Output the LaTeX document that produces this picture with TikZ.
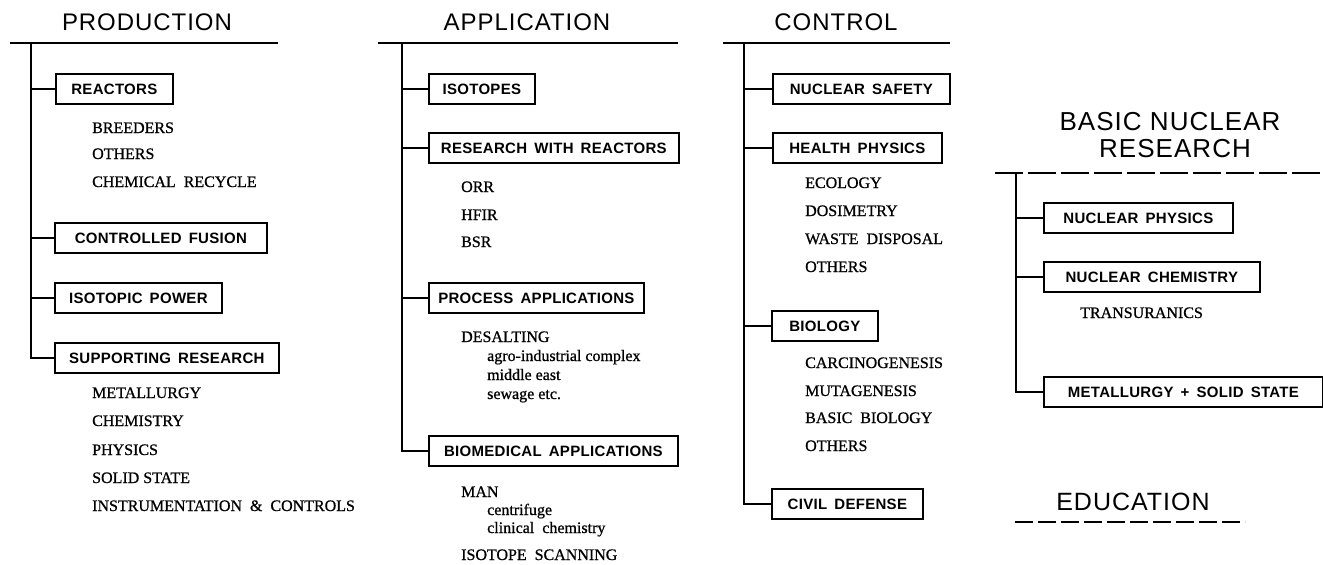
\documentclass[tikz,border=0pt]{standalone}
\usepackage{fontspec}
\setmainfont[FakeBold=0.8]{Liberation Serif}
\newfontfamily\headfont[LetterSpace=4]{Liberation Sans}
\newfontfamily\boxfont[LetterSpace=2,WordSpace=1.6]{Liberation Sans}
\tikzset{
  bar/.style={line width=2.4pt},
  dbar/.style={line width=2.4pt, dash pattern=on 28pt off 5pt},
  ebar/.style={line width=2.4pt, dash pattern=on 18pt off 5pt},
  trunk/.style={line width=1.6pt},
  bx/.style={draw, line width=1.7pt, anchor=west, minimum height=30pt, inner sep=0pt,
    font=\boxfont\bfseries\fontsize{15}{15}\selectfont},
  head/.style={anchor=base, inner sep=0pt, font=\headfont\fontsize{24}{24}\selectfont},
  bighead/.style={anchor=base, inner sep=0pt, font=\headfont\fontsize{26}{26}\selectfont},
  item/.style={anchor=base west, inner sep=0pt, font=\fontsize{16}{16}\selectfont},
}
\begin{document}
\begin{tikzpicture}[x=1pt,y=-1pt]
\useasboundingbox (0,0) rectangle (1323,565);

% ---------------- PRODUCTION ----------------
\node[head] (phead) at (147,30) {PRODUCTION};
\coordinate (pbl) at (10,43);
\coordinate (pbr) at (278,43);
\coordinate (ptop) at (31,43);
\draw[bar] (pbl) -- (pbr);
\node[bx, minimum width=117pt] (p1) at (55,89)  {REACTORS};
\node[bx, minimum width=212pt] (p2) at (54,238) {CONTROLLED FUSION};
\node[bx, minimum width=167pt] (p3) at (54,298) {ISOTOPIC POWER};
\node[bx, minimum width=224pt] (p4) at (54,358) {SUPPORTING RESEARCH};
\draw[trunk] (ptop) |- (p4.west);
\foreach \n in {p1,p2,p3} \draw[trunk] (\n.west) -- (\n.west -| ptop);
\node[item] (pi1) at (92,133) {BREEDERS};
\node[item] (pi2) at (92,159) {OTHERS};
\node[item] (pi3) at (92,187) {CHEMICAL\ \ RECYCLE};
\node[item] (pi4) at (92,398) {METALLURGY};
\node[item] (pi5) at (92,426) {CHEMISTRY};
\node[item] (pi6) at (92,455) {PHYSICS};
\node[item] (pi7) at (92,483) {SOLID STATE};
\node[item] (pi8) at (92,511) {INSTRUMENTATION\ \ \&\ \ CONTROLS};

% ---------------- APPLICATION ----------------
\node[head] (ahead) at (527,30) {APPLICATION};
\coordinate (abl) at (378,43);
\coordinate (abr) at (678,43);
\coordinate (atop) at (402,43);
\draw[bar] (abl) -- (abr);
\node[bx, minimum width=106pt] (a1) at (428,89)  {ISOTOPES};
\node[bx, minimum width=250pt] (a2) at (428,148) {RESEARCH WITH REACTORS};
\node[bx, minimum width=215pt] (a3) at (428,298) {PROCESS APPLICATIONS};
\node[bx, minimum width=249pt] (a4) at (428,451) {BIOMEDICAL APPLICATIONS};
\draw[trunk] (atop) |- (a4.west);
\foreach \n in {a1,a2,a3} \draw[trunk] (\n.west) -- (\n.west -| atop);
\node[item] (ai1) at (461,192) {ORR};
\node[item] (ai2) at (461,220) {HFIR};
\node[item] (ai3) at (461,247) {BSR};
\node[item] (ai4) at (461,342) {DESALTING};
\node[item] (ai5) at (487,361) {agro-industrial complex};
\node[item] (ai6) at (487,380) {middle east};
\node[item] (ai7) at (487,399) {sewage etc.};
\node[item] (ai8) at (461,497) {MAN};
\node[item] (ai9) at (487,515) {centrifuge};
\node[item] (ai10) at (487,533) {clinical\ \ chemistry};
\node[item] (ai11) at (461,560) {ISOTOPE\ \ SCANNING};

% ---------------- CONTROL ----------------
\node[head] (chead) at (836,30) {CONTROL};
\coordinate (cbl) at (723,43);
\coordinate (cbr) at (950,43);
\coordinate (ctop) at (744,43);
\draw[bar] (cbl) -- (cbr);
\node[bx, minimum width=177pt] (c1) at (772,89)  {NUCLEAR SAFETY};
\node[bx, minimum width=169pt] (c2) at (772,148) {HEALTH PHYSICS};
\node[bx, minimum width=106pt] (c3) at (771,326) {BIOLOGY};
\node[bx, minimum width=151pt] (c4) at (771,504) {CIVIL DEFENSE};
\draw[trunk] (ctop) |- (c4.west);
\foreach \n in {c1,c2,c3} \draw[trunk] (\n.west) -- (\n.west -| ctop);
\node[item] (ci1) at (805,188) {ECOLOGY};
\node[item] (ci2) at (805,216) {DOSIMETRY};
\node[item] (ci3) at (805,244) {WASTE\ \ DISPOSAL};
\node[item] (ci4) at (805,272) {OTHERS};
\node[item] (ci5) at (805,368) {CARCINOGENESIS};
\node[item] (ci6) at (805,396) {MUTAGENESIS};
\node[item] (ci7) at (805,423) {BASIC\ \ BIOLOGY};
\node[item] (ci8) at (805,451) {OTHERS};

% ---------------- BASIC NUCLEAR RESEARCH ----------------
\node[bighead] (bhead1) at (1170,130) {BASIC NUCLEAR};
\node[bighead] (bhead2) at (1175,157) {RESEARCH};
\coordinate (bbl) at (995,173);
\coordinate (bbr) at (1323,173);
\coordinate (btop) at (1016,173);
\draw[dbar] (bbl) -- (bbr);
\node[bx, minimum width=189pt] (b1) at (1043,218) {NUCLEAR PHYSICS};
\node[bx, minimum width=216pt] (b2) at (1043,277) {NUCLEAR CHEMISTRY};
\node[bx, minimum width=279pt] (b3) at (1043,392) {METALLURGY + SOLID STATE};
\draw[trunk] (btop) |- (b3.west);
\foreach \n in {b1,b2} \draw[trunk] (\n.west) -- (\n.west -| btop);
\node[item] (bi1) at (1080,318) {TRANSURANICS};

% ---------------- EDUCATION ----------------
\node[head, font=\headfont\fontsize{25}{25}\selectfont] (ehead) at (1133,510) {EDUCATION};
\coordinate (ebl) at (1015,522);
\coordinate (ebr) at (1245,522);
\draw[ebar] (ebl) -- (ebr);
\end{tikzpicture}
\end{document}
